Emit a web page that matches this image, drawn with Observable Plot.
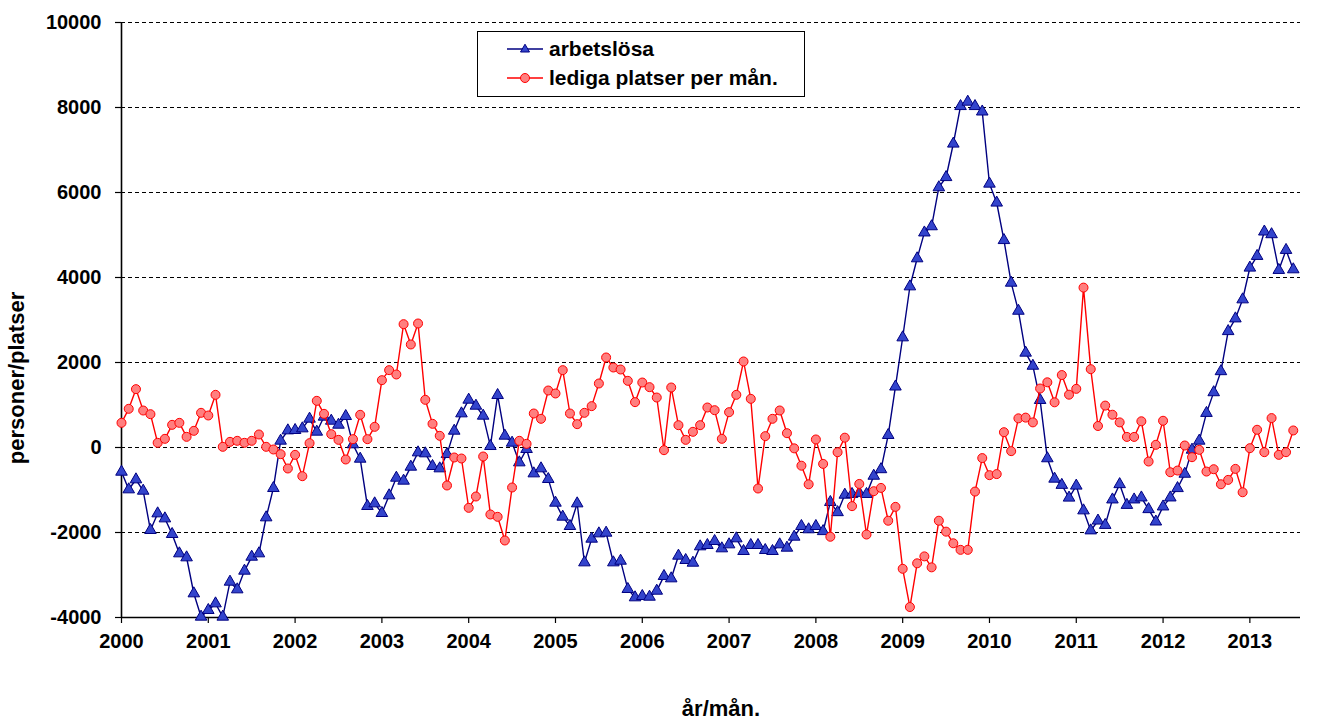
<!DOCTYPE html>
<html><head><meta charset="utf-8">
<script src="https://cdn.jsdelivr.net/npm/d3@7"></script>
<script src="https://cdn.jsdelivr.net/npm/@observablehq/plot@0.6"></script>
<style>
body{margin:0;background:#fff;font-family:"Liberation Sans",Arial,sans-serif;}
#wrap{position:relative;width:1320px;height:722px;}
#legend{position:absolute;left:477px;top:31px;width:328px;height:66px;border:1px solid #000;box-sizing:border-box;background:#fff;}
#legend .row{position:absolute;left:0;height:20px;display:flex;align-items:center;}
#legend .row span{font-weight:bold;font-size:21px;line-height:20px;color:#000;margin-left:5px;white-space:nowrap;}
</style>
</head><body>
<div id="wrap"></div>
<script>
const startYear = 2000;
const seriesNames = ["arbetslösa", "lediga platser per mån."];
const arbetslosa = [
-573,-988,-753,-1020,-1945,-1553,-1671,-2039,-2494,-2588,-3435,-3984,
-3827,-3671,-3984,-3161,-3341,-2902,-2573,-2494,-1647,-957,157,400,
408,447,675,369,722,627,533,737,71,-267,-1380,-1318,
-1545,-1129,-714,-784,-455,-118,-141,-439,-494,-157,392,800,
1122,980,745,31,1231,275,110,-353,-39,-612,-494,-745,
-1302,-1631,-1851,-1318,-2706,-2149,-2024,-2008,-2706,-2667,-3333,-3529,
-3498,-3514,-3373,-3027,-3082,-2549,-2651,-2714,-2329,-2298,-2204,-2376,
-2282,-2141,-2439,-2298,-2298,-2416,-2439,-2282,-2361,-2102,-1851,-1928,
-1851,-1971,-1286,-1525,-1114,-1097,-1071,-1097,-668,-514,291,1431,
2588,3788,4448,5056,5202,6119,6359,7147,8030,8133,8030,7902,
6205,5759,4877,3874,3214,2228,1920,1114,-257,-737,-883,-1183,
-900,-1483,-1954,-1723,-1825,-1226,-866,-1354,-1226,-1179,-1454,-1745,
-1391,-1179,-959,-621,-55,157,810,1297,1792,2735,3034,3482,
4229,4504,5078,5015,4174,4645,4189
];
const ledigaPlatser = [
580,910,1373,870,784,110,204,533,580,251,392,816,
753,1239,16,133,157,110,157,306,16,-47,-157,-494,
-173,-675,102,1098,792,314,180,-282,196,769,196,486,
1584,1820,1718,2902,2424,2918,1122,557,275,-894,-235,-259,
-1420,-1153,-212,-1576,-1631,-2188,-941,157,86,800,675,1341,
1271,1820,800,549,816,973,1506,2118,1882,1835,1569,1067,
1529,1420,1176,-63,1412,525,180,369,525,941,878,204,
831,1239,2024,1145,-965,267,675,871,337,-20,-428,-866,
189,-386,-2100,-111,231,-1380,-857,-2048,-1028,-951,-1723,-1397,
-2854,-3754,-2725,-2562,-2820,-1723,-1980,-2254,-2408,-2408,-1037,-249,
-651,-626,360,-86,686,703,591,1388,1534,1063,1705,1243,
1380,3762,1843,506,986,771,591,249,249,617,-330,63,
629,-582,-542,47,-228,-55,-566,-511,-865,-762,-503,-1053,
-16,417,-110,692,-173,-110,401
];
const yTicks = [-4000,-2000,0,2000,4000,6000,8000,10000];
const xTicks = [2000,2001,2002,2003,2004,2005,2006,2007,2008,2009,2010,2011,2012,2013];
const yLabel = "personer/platser";
const xLabel = "år/mån.";

const rowsA = arbetslosa.map((v,i)=>({t: startYear + i/12, v}));
const rowsL = ledigaPlatser.map((v,i)=>({t: startYear + i/12, v}));
const xEnd = startYear + (arbetslosa.length)/12;

const navy = "#000080", blueFill = "#3344cc", red = "#ff0000", redFill = "#ff7f7f";

const chart = Plot.plot({
  width: 1320, height: 722,
  marginLeft: 121, marginRight: 20, marginTop: 22, marginBottom: 105,
  x: {domain: [startYear, xEnd]},
  y: {domain: [-4000, 10000]},
  style: {fontFamily: "'Liberation Sans', Arial, sans-serif", fontSize: "20px", fontWeight: "bold", color: "#000", background: "#fff", overflow: "visible"},
  marks: [
    Plot.ruleY(yTicks.filter(d => d > -4000), {stroke: "#000", strokeWidth: 1, strokeDasharray: "4,3"}),
    Plot.axisY({ticks: yTicks, tickSize: 6, tickPadding: 14, tickFormat: d => String(d), label: null, stroke: "#000", strokeWidth: 1.2}),
    Plot.axisX({ticks: xTicks, tickSize: 6, tickPadding: 10, tickFormat: d => String(d), label: null, stroke: "#000", strokeWidth: 1.2}),
    Plot.ruleX([startYear], {stroke: "#000", strokeWidth: 1.6}),
    Plot.ruleY([-4000], {stroke: "#000", strokeWidth: 1.6}),
    Plot.line(rowsA, {x: "t", y: "v", stroke: navy, strokeWidth: 1.4}),
    Plot.dot(rowsA, {x: "t", y: "v", symbol: "triangle", r: 4.3, fill: blueFill, stroke: navy, strokeWidth: 1}),
    Plot.line(rowsL, {x: "t", y: "v", stroke: red, strokeWidth: 1.4}),
    Plot.dot(rowsL, {x: "t", y: "v", symbol: "circle", r: 4.5, fill: redFill, stroke: red, strokeWidth: 1})
  ]
});
document.getElementById("wrap").appendChild(chart);

const svg = d3.select(chart);
svg.append("text")
  .attr("transform", "translate(24,378) rotate(-90)")
  .attr("text-anchor", "middle")
  .attr("font-size", 22).attr("font-weight", "bold").attr("fill", "#000")
  .text(yLabel);
svg.append("text")
  .attr("x", 721).attr("y", 716)
  .attr("text-anchor", "middle")
  .attr("font-size", 22).attr("font-weight", "bold").attr("fill", "#000")
  .text(xLabel);

// legend
const legend = document.createElement("div");
legend.id = "legend";
const ns = "http://www.w3.org/2000/svg";
seriesNames.forEach((name, k) => {
  const row = document.createElement("div");
  row.className = "row";
  row.style.left = "28px";
  row.style.top = (k === 0 ? 7 : 36) + "px";
  const s = document.createElementNS(ns, "svg");
  s.setAttribute("width", 38); s.setAttribute("height", 20);
  const ln = document.createElementNS(ns, "line");
  ln.setAttribute("x1", 1); ln.setAttribute("x2", 37); ln.setAttribute("y1", 10); ln.setAttribute("y2", 10);
  ln.setAttribute("stroke", k === 0 ? navy : red); ln.setAttribute("stroke-width", 1.4);
  s.appendChild(ln);
  if (k === 0) {
    const p = document.createElementNS(ns, "path");
    p.setAttribute("d", "M19,5.2L23.5,13L14.5,13Z");
    p.setAttribute("fill", blueFill); p.setAttribute("stroke", navy);
    s.appendChild(p);
  } else {
    const c = document.createElementNS(ns, "circle");
    c.setAttribute("cx", 19); c.setAttribute("cy", 10); c.setAttribute("r", 4.5);
    c.setAttribute("fill", redFill); c.setAttribute("stroke", red);
    s.appendChild(c);
  }
  row.appendChild(s);
  const t = document.createElement("span");
  t.textContent = name;
  row.appendChild(t);
  legend.appendChild(row);
});
document.getElementById("wrap").appendChild(legend);
</script>
</body></html>
